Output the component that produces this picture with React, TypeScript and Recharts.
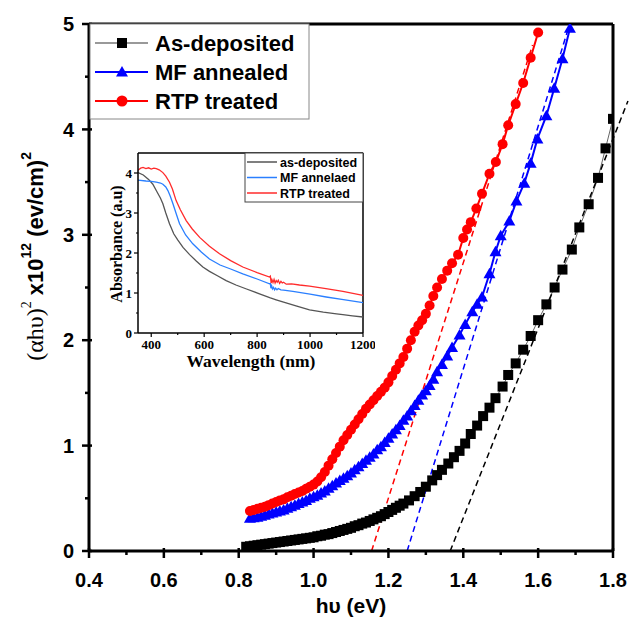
import { LineChart, Line, XAxis, YAxis, ReferenceLine } from "recharts";

const SANS = "'Liberation Sans', Arial, sans-serif";
const SERIF = "'Liberation Serif', 'Times New Roman', serif";

// Tauc plot, [hν (eV), (αhν)² ×10¹²]
const AS_DEPOSITED: [number, number][] = [
  [0.82, 0.04], [0.83, 0.045], [0.84, 0.05], [0.85, 0.055], [0.86, 0.06], [0.87, 0.065],
  [0.88, 0.07], [0.89, 0.075], [0.9, 0.08], [0.91, 0.085], [0.92, 0.09], [0.93, 0.095],
  [0.94, 0.1], [0.95, 0.105], [0.96, 0.11], [0.97, 0.115], [0.98, 0.12], [0.99, 0.125],
  [1.0, 0.13], [1.01, 0.14], [1.02, 0.145], [1.03, 0.155], [1.04, 0.16], [1.05, 0.17],
  [1.06, 0.18], [1.07, 0.19], [1.08, 0.2], [1.09, 0.21], [1.1, 0.22], [1.11, 0.235],
  [1.12, 0.245], [1.13, 0.26], [1.14, 0.27], [1.15, 0.285], [1.16, 0.3], [1.17, 0.315],
  [1.18, 0.33], [1.19, 0.35], [1.2, 0.37], [1.21, 0.39], [1.22, 0.41], [1.23, 0.43],
  [1.24, 0.45], [1.255, 0.48], [1.27, 0.52], [1.285, 0.56], [1.3, 0.61], [1.317, 0.67],
  [1.33, 0.72], [1.343, 0.77], [1.36, 0.83], [1.375, 0.89], [1.39, 0.95], [1.405, 1.02],
  [1.42, 1.11], [1.437, 1.19], [1.453, 1.28], [1.47, 1.36], [1.486, 1.45], [1.505, 1.56],
  [1.52, 1.67], [1.54, 1.78], [1.56, 1.91], [1.58, 2.04], [1.6, 2.19], [1.622, 2.34],
  [1.644, 2.5], [1.665, 2.67], [1.69, 2.86], [1.71, 3.07], [1.735, 3.29], [1.76, 3.54],
  [1.78, 3.82], [1.8, 4.1],
];

const MF_ANNEALED: [number, number][] = [
  [0.83, 0.31], [0.84, 0.315], [0.85, 0.32], [0.86, 0.33], [0.87, 0.34], [0.88, 0.35],
  [0.89, 0.36], [0.9, 0.37], [0.91, 0.38], [0.92, 0.39], [0.93, 0.405], [0.94, 0.42],
  [0.95, 0.435], [0.96, 0.45], [0.97, 0.465], [0.98, 0.48], [0.99, 0.5], [1.0, 0.515],
  [1.01, 0.53], [1.02, 0.55], [1.03, 0.57], [1.04, 0.595], [1.05, 0.62], [1.06, 0.645],
  [1.07, 0.67], [1.08, 0.69], [1.09, 0.715], [1.1, 0.74], [1.11, 0.77], [1.12, 0.8],
  [1.13, 0.83], [1.14, 0.86], [1.15, 0.89], [1.16, 0.92], [1.17, 0.96], [1.18, 0.99],
  [1.19, 1.03], [1.2, 1.07], [1.21, 1.11], [1.22, 1.15], [1.23, 1.19], [1.24, 1.24],
  [1.25, 1.28], [1.26, 1.33], [1.27, 1.38], [1.28, 1.43], [1.29, 1.48], [1.3, 1.52],
  [1.31, 1.57], [1.32, 1.63], [1.33, 1.7], [1.343, 1.77], [1.357, 1.85], [1.37, 1.93],
  [1.39, 2.05], [1.405, 2.15], [1.424, 2.27], [1.437, 2.34], [1.45, 2.41], [1.47, 2.63],
  [1.486, 2.84], [1.5, 2.99], [1.523, 3.13], [1.542, 3.32], [1.563, 3.49], [1.58, 3.68],
  [1.598, 3.91], [1.622, 4.13], [1.643, 4.39], [1.665, 4.67], [1.685, 4.96],
];

const RTP_TREATED: [number, number][] = [
  [0.83, 0.38], [0.84, 0.39], [0.85, 0.4], [0.86, 0.41], [0.87, 0.42], [0.88, 0.435],
  [0.89, 0.45], [0.9, 0.465], [0.91, 0.48], [0.92, 0.49], [0.93, 0.51], [0.94, 0.525],
  [0.95, 0.54], [0.96, 0.555], [0.97, 0.57], [0.98, 0.59], [0.99, 0.61], [1.0, 0.63],
  [1.01, 0.66], [1.02, 0.7], [1.03, 0.75], [1.04, 0.81], [1.05, 0.87], [1.06, 0.93],
  [1.07, 0.99], [1.08, 1.05], [1.09, 1.1], [1.1, 1.15], [1.11, 1.2], [1.12, 1.25],
  [1.13, 1.3], [1.14, 1.35], [1.15, 1.39], [1.16, 1.43], [1.17, 1.47], [1.18, 1.51],
  [1.19, 1.55], [1.2, 1.6], [1.21, 1.66], [1.22, 1.72], [1.23, 1.78], [1.24, 1.84],
  [1.25, 1.92], [1.26, 2.0], [1.27, 2.08], [1.28, 2.14], [1.29, 2.19], [1.3, 2.25],
  [1.31, 2.33], [1.32, 2.42], [1.33, 2.5], [1.343, 2.58], [1.357, 2.66], [1.37, 2.73],
  [1.386, 2.81], [1.4, 2.97], [1.41, 3.05], [1.42, 3.12], [1.435, 3.25], [1.45, 3.39],
  [1.47, 3.58], [1.487, 3.69], [1.505, 3.86], [1.52, 4.04], [1.54, 4.24], [1.56, 4.44],
  [1.58, 4.68], [1.6, 4.92],
];

// linear fits (dashed), start and end points
const FIT_AS_DEPOSITED = [{ x: 1.365, y: 0 }, { x: 1.84, y: 4.27 }];
const FIT_MF = [{ x: 1.25, y: 0 }, { x: 1.68, y: 4.95 }];
const FIT_RTP = [{ x: 1.155, y: 0 }, { x: 1.585, y: 4.8 }];

const X_TICKS = [0.4, 0.5, 0.6, 0.7, 0.8, 0.9, 1.0, 1.1, 1.2, 1.3, 1.4, 1.5, 1.6, 1.7, 1.8];
const Y_TICKS = [0, 0.5, 1, 1.5, 2, 2.5, 3, 3.5, 4, 4.5, 5];

// inset: absorbance vs wavelength (nm)
const ABS_AS_DEPOSITED: [number, number][] = [
  [350, 4.01], [370, 3.95], [390, 3.84], [406, 3.72], [420, 3.55], [435, 3.37], [444, 3.23],
  [455, 3.0], [469, 2.73], [485, 2.48], [500, 2.33], [520, 2.14], [545, 1.96], [570, 1.8],
  [595, 1.65], [620, 1.54], [650, 1.43], [683, 1.31], [720, 1.2], [760, 1.1], [809, 0.98],
  [850, 0.88], [872, 0.83], [900, 0.77], [950, 0.67], [998, 0.58], [1050, 0.52], [1100, 0.48],
  [1124, 0.46], [1160, 0.43], [1200, 0.4],
];
const ABS_MF: [number, number][] = [
  [350, 3.82], [380, 3.8], [400, 3.79], [419, 3.77], [435, 3.75], [444, 3.72], [455, 3.65],
  [463, 3.56], [472, 3.42], [482, 3.23], [495, 2.97], [507, 2.73], [530, 2.45], [557, 2.23],
  [590, 2.02], [620, 1.85], [660, 1.7], [700, 1.6], [746, 1.48], [800, 1.35], [847, 1.23],
  [850, 1.24], [852, 1.12], [855, 1.18], [858, 1.1], [862, 1.14], [866, 1.08], [870, 1.12],
  [875, 1.08], [880, 1.11], [890, 1.08], [900, 1.07], [935, 1.04], [1000, 0.97], [1061, 0.9],
  [1120, 0.84], [1200, 0.76],
];
const ABS_RTP: [number, number][] = [
  [350, 4.07], [360, 4.12], [369, 4.14], [380, 4.11], [390, 4.13], [400, 4.1], [410, 4.12],
  [419, 4.11], [430, 4.08], [444, 4.01], [455, 3.92], [469, 3.77], [480, 3.6], [494, 3.31],
  [510, 3.08], [532, 2.81], [555, 2.6], [583, 2.39], [620, 2.17], [658, 1.98], [700, 1.81],
  [746, 1.65], [800, 1.51], [847, 1.4], [850, 1.42], [853, 1.25], [856, 1.33], [860, 1.26],
  [864, 1.34], [868, 1.25], [872, 1.31], [876, 1.27], [880, 1.32], [885, 1.24], [890, 1.29],
  [895, 1.25], [900, 1.27], [910, 1.22], [930, 1.23], [960, 1.2], [998, 1.17], [1060, 1.11],
  [1124, 1.04], [1200, 0.94],
];

const INSET_X_TICKS = [400, 500, 600, 700, 800, 900, 1000, 1100, 1200];
const INSET_Y_TICKS = [0, 0.5, 1, 1.5, 2, 2.5, 3, 3.5, 4];

const LEGEND = [
  { name: "As-deposited", color: "#777", marker: "square", fill: "#000" },
  { name: "MF annealed", color: "#0000ff", marker: "triangle", fill: "#0000ff" },
  { name: "RTP treated", color: "#ff0000", marker: "circle", fill: "#ff0000" },
];
const INSET_LEGEND = [
  { name: "as-deposited", color: "#555" },
  { name: "MF annelaed", color: "#2a7fff" },
  { name: "RTP treated", color: "#ff2b2b" },
];

const pts = (arr: [number, number][]) => arr.map(([x, y]) => ({ x, y }));

function Square(p: any) {
  const { cx, cy, index } = p;
  if (cx == null || cy == null) return <g key={`s${index}`} />;
  return <rect key={`s${index}`} x={cx - 5} y={cy - 5} width={10} height={10} fill="#000" />;
}

function Triangle(p: any) {
  const { cx, cy, index } = p;
  if (cx == null || cy == null) return <g key={`t${index}`} />;
  return (
    <polygon
      key={`t${index}`}
      points={`${cx},${cy - 6} ${cx - 6},${cy + 4.5} ${cx + 6},${cy + 4.5}`}
      fill="#0000ff"
    />
  );
}

function XTick({ x, y, payload }: any) {
  const v = payload.value as number;
  const major = Math.round(v * 10) % 2 === 0;
  return (
    <g>
      <line x1={x} x2={x} y1={major ? y - 3 : y} y2={y + (major ? 7 : 4)} stroke="#000" strokeWidth={2.5} />
      {major && (
        <text x={x} y={y + 36} textAnchor="middle" fontFamily={SANS} fontWeight="bold" fontSize={20} fill="#000">
          {v.toFixed(1)}
        </text>
      )}
    </g>
  );
}

function YTick({ x, y, payload }: any) {
  const v = payload.value as number;
  const major = Number.isInteger(v);
  return (
    <g>
      <line x1={x - (major ? 7 : 4)} x2={major ? x + 3 : x} y1={y} y2={y} stroke="#000" strokeWidth={2.5} />
      {major && (
        <text x={x - 15} y={y} dy="0.36em" textAnchor="end" fontFamily={SANS} fontWeight="bold" fontSize={20} fill="#000">
          {v}
        </text>
      )}
    </g>
  );
}

function InsetXTick({ x, y, payload }: any) {
  const v = payload.value as number;
  const major = v % 200 === 0;
  return (
    <g>
      <line x1={x} x2={x} y1={y} y2={y + (major ? 4 : 2)} stroke="#000" strokeWidth={1.2} />
      {major && (
        <text x={x} y={y + 16} textAnchor="middle" fontFamily={SERIF} fontWeight="bold" fontSize={13} fill="#000">
          {v}
        </text>
      )}
    </g>
  );
}

function InsetYTick({ x, y, payload }: any) {
  const v = payload.value as number;
  const major = Number.isInteger(v);
  return (
    <g>
      <line x1={x - (major ? 4 : 2)} x2={x} y1={y} y2={y} stroke="#000" strokeWidth={1.2} />
      {major && (
        <text x={x - 6} y={y} dy="0.35em" textAnchor="end" fontFamily={SERIF} fontWeight="bold" fontSize={13} fill="#000">
          {v}
        </text>
      )}
    </g>
  );
}

function MainYLabel() {
  // anchored at its upper end, reads upward
  return (
    <text x={35} y={152} transform="rotate(-90, 35, 152)" textAnchor="end" dominantBaseline="central" fontSize={22} fill="#000">
      <tspan fontFamily={SERIF} fontSize={24}>(αhυ)</tspan>
      <tspan fontFamily={SERIF} fontSize={14} dy={-9}>2</tspan>
      <tspan fontFamily={SANS} fontWeight="bold" dy={9}> x10</tspan>
      <tspan fontFamily={SANS} fontWeight="bold" fontSize={14} dy={-9}>12</tspan>
      <tspan fontFamily={SANS} fontWeight="bold" dy={9}> (ev/cm)</tspan>
      <tspan fontFamily={SANS} fontWeight="bold" fontSize={14} dy={-9}>2</tspan>
    </text>
  );
}

function MainXLabel() {
  return (
    <text x={351} y={613} textAnchor="middle" fontFamily={SANS} fontWeight="bold" fontSize={21} fill="#000">
      hυ (eV)
    </text>
  );
}

function InsetXLabel() {
  return (
    <text x={151} y={222} textAnchor="middle" fontFamily={SERIF} fontWeight="bold" fontSize={17.5} fill="#000">
      Wavelength (nm)
    </text>
  );
}

function InsetYLabel() {
  return (
    <text
      x={16}
      y={99}
      transform="rotate(-90, 16, 99)"
      textAnchor="middle"
      dominantBaseline="central"
      fontFamily={SERIF}
      fontWeight="bold"
      fontSize={16}
      fill="#000"
    >
      Absorbance (a.u)
    </text>
  );
}

function Legends() {
  return (
    <svg width={634} height={628} style={{ position: "absolute", left: 0, top: 0, pointerEvents: "none" }}>
      {/* main legend */}
      <rect x={90} y={24} width={219} height={95} fill="#fff" stroke="#888" strokeWidth={1} />
      {LEGEND.map((l, i) => {
        const cy = 43 + i * 29;
        return (
          <g key={l.name}>
            <line x1={95} x2={148} y1={cy} y2={cy} stroke={l.color} strokeWidth={l.marker === "square" ? 1.5 : 2} />
            {l.marker === "square" && <rect x={117} y={cy - 5} width={10} height={10} fill={l.fill} />}
            {l.marker === "triangle" && (
              <polygon points={`122,${cy - 6} 116,${cy + 4.5} 128,${cy + 4.5}`} fill={l.fill} />
            )}
            {l.marker === "circle" && <circle cx={122} cy={cy} r={5.5} fill={l.fill} />}
            <text x={155} y={cy + 8} fontFamily={SANS} fontWeight="bold" fontSize={22} fill="#000">
              {l.name}
            </text>
          </g>
        );
      })}
      {/* inset legend */}
      <rect x={245} y={153} width={118} height={49} fill="#fff" stroke="#444" strokeWidth={1} />
      {INSET_LEGEND.map((l, i) => {
        const cy = 162 + i * 15.5;
        return (
          <g key={l.name}>
            <line x1={247} x2={277} y1={cy} y2={cy} stroke={l.color} strokeWidth={1.5} />
            <text x={280} y={cy + 4.5} fontFamily={SANS} fontWeight="bold" fontSize={12.5} fill="#000">
              {l.name}
            </text>
          </g>
        );
      })}
    </svg>
  );
}

function Inset() {
  return (
    <div style={{ position: "absolute", left: 100, top: 145 }}>
      <LineChart width={275} height={230} margin={{ top: 8, right: 12, left: 0, bottom: 0 }}>
        <XAxis
          type="number"
          dataKey="x"
          domain={[350, 1200]}
          ticks={INSET_X_TICKS}
          allowDataOverflow
          interval={0}
          height={42}
          tickSize={0}
          tickMargin={0}
          tickLine={false}
          tick={<InsetXTick />}
          axisLine={{ stroke: "#000", strokeWidth: 1.5 }}
          label={<InsetXLabel />}
        />
        <YAxis
          type="number"
          dataKey="y"
          domain={[0, 4.5]}
          ticks={INSET_Y_TICKS}
          allowDataOverflow
          interval={0}
          width={38}
          tickSize={0}
          tickMargin={0}
          tickLine={false}
          tick={<InsetYTick />}
          axisLine={{ stroke: "#000", strokeWidth: 1.5 }}
          label={<InsetYLabel />}
        />
        <ReferenceLine y={4.5} stroke="#000" strokeWidth={1.5} />
        <ReferenceLine x={1200} stroke="#000" strokeWidth={1.5} />
        <Line data={pts(ABS_AS_DEPOSITED)} dataKey="y" stroke="#555" strokeWidth={1.3} dot={false} isAnimationActive={false} />
        <Line data={pts(ABS_MF)} dataKey="y" stroke="#2a7fff" strokeWidth={1.3} dot={false} isAnimationActive={false} />
        <Line data={pts(ABS_RTP)} dataKey="y" stroke="#ff2b2b" strokeWidth={1.3} dot={false} isAnimationActive={false} />
      </LineChart>
    </div>
  );
}

export default function App() {
  return (
    <div style={{ position: "absolute", left: 0, top: 0, width: 634, height: 628, background: "#fff" }}>
      <LineChart width={634} height={628} margin={{ top: 24, right: 21, left: 0, bottom: 0 }}>
        <XAxis
          type="number"
          dataKey="x"
          domain={[0.4, 1.8]}
          ticks={X_TICKS}
          allowDataOverflow
          interval={0}
          height={77}
          tickSize={0}
          tickMargin={0}
          tickLine={false}
          tick={<XTick />}
          axisLine={{ stroke: "#000", strokeWidth: 3 }}
          label={<MainXLabel />}
        />
        <YAxis
          type="number"
          dataKey="y"
          domain={[0, 5]}
          ticks={Y_TICKS}
          allowDataOverflow
          interval={0}
          width={89}
          tickSize={0}
          tickMargin={0}
          tickLine={false}
          tick={<YTick />}
          axisLine={{ stroke: "#000", strokeWidth: 3 }}
          label={<MainYLabel />}
        />
        <ReferenceLine y={5} stroke="#000" strokeWidth={3} />
        <ReferenceLine x={1.8} stroke="#000" strokeWidth={3} />
        <Line
          data={pts(AS_DEPOSITED)}
          dataKey="y"
          stroke="#666"
          strokeWidth={1}
          dot={<Square />}
          isAnimationActive={false}
        />
        <Line
          data={pts(MF_ANNEALED)}
          dataKey="y"
          stroke="#0000ff"
          strokeWidth={2}
          dot={<Triangle />}
          isAnimationActive={false}
        />
        <Line
          data={pts(RTP_TREATED)}
          dataKey="y"
          stroke="#ff0000"
          strokeWidth={2}
          dot={{ r: 5, fill: "#ff0000", stroke: "#ff0000", strokeWidth: 0 }}
          isAnimationActive={false}
        />
        <ReferenceLine segment={FIT_AS_DEPOSITED} ifOverflow="visible" stroke="#000" strokeWidth={1.5} strokeDasharray="6 4" />
        <ReferenceLine segment={FIT_MF} ifOverflow="visible" stroke="#0000ff" strokeWidth={1.5} strokeDasharray="6 4" />
        <ReferenceLine segment={FIT_RTP} ifOverflow="visible" stroke="#ff0000" strokeWidth={1.5} strokeDasharray="6 4" />
      </LineChart>
      <Inset />
      <Legends />
    </div>
  );
}
